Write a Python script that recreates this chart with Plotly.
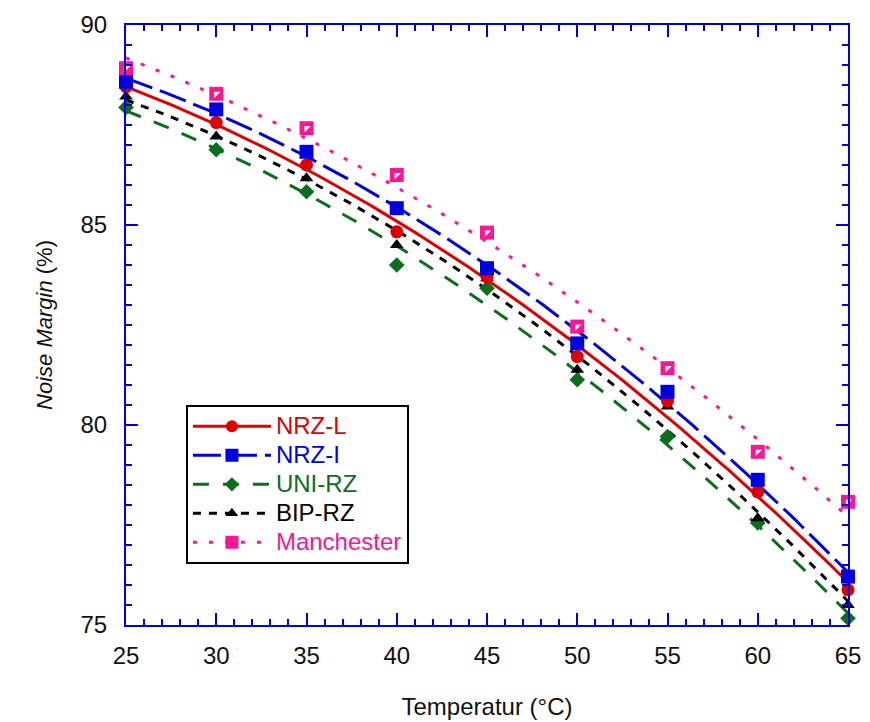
import numpy as np
import plotly.graph_objects as go

temps = [25, 30, 35, 40, 45, 50, 55, 60, 65]
nrz_l = [88.46, 87.56, 86.50, 84.83, 83.70, 81.71, 80.60, 78.33, 75.88]
nrz_i = [88.58, 87.89, 86.83, 85.42, 83.92, 82.04, 80.83, 78.63, 76.21]
uni_rz = [87.94, 86.88, 85.83, 84.00, 83.42, 81.13, 79.71, 77.55, 75.17]
bip_rz = [88.21, 87.21, 86.17, 84.50, 83.67, 81.38, 80.46, 77.67, 75.50]
manchester = [88.92, 88.28, 87.42, 86.25, 84.81, 82.46, 81.42, 79.33, 78.08]

series_names = ["NRZ-L", "NRZ-I", "UNI-RZ", "BIP-RZ", "Manchester"]
series_vals = [nrz_l, nrz_i, uni_rz, bip_rz, manchester]
colors = ["#e00000", "#0000e0", "#0a6e1e", "#000000", "#ff1493"]
dashes = ["solid", "28px,8px", "16px,14px", "8px,8px", "4px,12px"]
symbols = ["circle", "square", "diamond", "triangle-up", "square"]
msizes = [13, 14, 12, 12, 14]

FONT = "Liberation Sans, Arial, sans-serif"
BLUE = "#0000e0"

fig = go.Figure()
xs = np.linspace(min(temps), max(temps), 200)
draw_order = [2, 3, 0, 1, 4]
for i in draw_order:
    coef = np.polyfit(temps, series_vals[i], 2)
    fig.add_trace(go.Scatter(
        x=xs, y=np.polyval(coef, xs), mode="lines",
        line=dict(color=colors[i], width=3, dash=dashes[i]),
        showlegend=False, hoverinfo="skip", cliponaxis=False))
for i in draw_order:
    fig.add_trace(go.Scatter(
        x=temps, y=series_vals[i], mode="markers",
        marker=dict(symbol=symbols[i], size=msizes[i], color=colors[i],
                    line=dict(width=0)),
        showlegend=False, cliponaxis=False))
    if series_names[i] == "Manchester":
        fig.add_trace(go.Scatter(
            x=temps, y=series_vals[i], mode="markers",
            marker=dict(symbol="triangle-nw", size=7, color="white",
                        line=dict(width=0)),
            showlegend=False, cliponaxis=False, hoverinfo="skip"))

# legend entries
for i, name in enumerate(series_names):
    fig.add_trace(go.Scatter(
        x=[None], y=[None], mode="lines+markers",
        name=f"<span style='color:{colors[i]};font-size:24px'>{name}</span>",
        line=dict(color=colors[i], width=3, dash=dashes[i]),
        marker=dict(symbol=symbols[i], size=msizes[i] - 1, color=colors[i]),
        legendrank=i + 1))

axis_common = dict(
    showline=True, linecolor=BLUE, linewidth=2, mirror="ticks",
    ticks="inside", tickcolor=BLUE, tickwidth=2, ticklen=12,
    showgrid=False, zeroline=False, automargin=False,
    tickfont=dict(family=FONT, size=24, color="#111111"),
)

fig.update_xaxes(
    range=[25, 65], dtick=5, tick0=25, ticklabelstandoff=8,
    minor=dict(ticks="inside", dtick=1, ticklen=6, tickcolor=BLUE, tickwidth=2),
    title=dict(text="Temperatur (°C)", font=dict(family=FONT, size=24, color="#111111"),
               standoff=30),
    **axis_common)
fig.update_yaxes(
    range=[75, 90], dtick=5, tick0=75, ticklabelstandoff=12,
    minor=dict(ticks="inside", dtick=0.5, ticklen=6, tickcolor=BLUE, tickwidth=2),
    title=dict(text="<i>Noise Margin</i> (%)", font=dict(family=FONT, size=22, color="#111111"),
               standoff=22),
    **axis_common)

fig.update_layout(
    width=862, height=714,
    margin=dict(l=118, r=22, t=17, b=97),
    paper_bgcolor="white", plot_bgcolor="white",
    font=dict(family=FONT, size=24, color="#111111"),
    legend=dict(
        x=0.083, y=0.367, xanchor="left", yanchor="top",
        bgcolor="white", bordercolor="black", borderwidth=2,
        font=dict(family=FONT, size=20), itemwidth=78),
)

fig.write_html("out.html")
